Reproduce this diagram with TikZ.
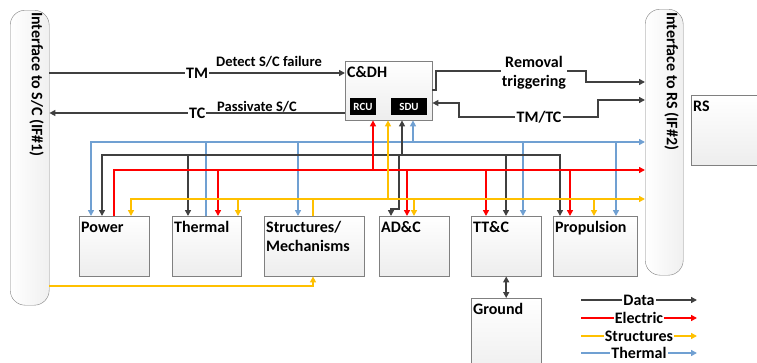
\documentclass[tikz,border=0pt]{standalone}
\usepackage{fontspec}
\setmainfont{Carlito}
\usepackage{tikz}
\usetikzlibrary{arrows.meta,positioning,calc}
\definecolor{dataGray}{RGB}{64,64,64}
\definecolor{elecRed}{RGB}{255,0,0}
\definecolor{strucYellow}{RGB}{255,192,0}
\definecolor{thermBlue}{RGB}{112,160,210}
\definecolor{boxGray}{RGB}{128,128,128}
\newcommand{\lblfont}{\fontsize{16}{19}\selectfont\bfseries}
\newcommand{\notefont}{\fontsize{14.5}{17}\selectfont\bfseries}
\newcommand{\chipfont}{\fontsize{11}{13}\selectfont\bfseries}

\begin{document}
\begin{tikzpicture}[x=1pt, y=-1pt, >={Triangle[length=6pt,width=6pt]}, font=\lblfont]
\tikzstyle{sub}=[draw=boxGray, top color=white, bottom color=gray!14, anchor=north west, inner sep=0pt]
\tikzstyle{iface}=[draw=boxGray, rounded corners=15pt, left color=white, right color=gray!12, anchor=north west, inner sep=0pt]
\tikzstyle{ifacetext}=[rotate=-90, anchor=north west, inner sep=1pt]
\tikzstyle{lbl}=[anchor=north west, inner xsep=2pt, inner ysep=5.5pt, align=left]
\tikzstyle{chip}=[fill=black, text=white, font=\chipfont, inner sep=0pt]
\tikzstyle{tag}=[fill=white, inner sep=1pt]
\tikzstyle{dataline}=[draw=dataGray, line width=1.8pt]
\tikzstyle{elecline}=[draw=elecRed, line width=2.6pt]
\tikzstyle{strucline}=[draw=strucYellow, line width=2.2pt]
\tikzstyle{thermline}=[draw=thermBlue, line width=1.8pt]
\useasboundingbox (0,0) rectangle (757,362);

% interfaces and units
\node[iface, minimum width=39pt, minimum height=295pt] (if1) at (10,10) {};
\node[ifacetext] (if1txt) at (45,11) {Interface to S/C (IF\#1)};
\node[iface, minimum width=38pt, minimum height=266pt] (if2) at (645,9) {};
\node[ifacetext] (if2txt) at (680,11) {Interface to RS (IF\#2)};
\node[sub, minimum width=90pt, minimum height=70pt, label={[lbl]north west:RS}] (rs) at (691,95) {};
\node[sub, minimum width=87pt, minimum height=59pt, label={[lbl]north west:C\&DH}] (cdh) at (345,61) {};
\node[chip, minimum width=26pt, minimum height=17pt] (rcu) at (363,106.5) {RCU};
\node[chip, minimum width=36pt, minimum height=17pt] (sdu) at (409,106.5) {SDU};
\node[sub, minimum width=70pt, minimum height=60pt, label={[lbl]north west:Power}] (power) at (79,216) {};
\node[sub, minimum width=69pt, minimum height=60pt, label={[lbl]north west:Thermal}] (thermal) at (172,216) {};
\node[sub, minimum width=100pt, minimum height=60pt, label={[lbl]north west:Structures/\\Mechanisms}] (struct) at (264,216) {};
\node[sub, minimum width=70pt, minimum height=60pt, label={[lbl]north west:AD\&C}] (adc) at (379,216) {};
\node[sub, minimum width=70pt, minimum height=60pt, label={[lbl]north west:TT\&C}] (ttc) at (471,216) {};
\node[sub, minimum width=84pt, minimum height=60pt, label={[lbl]north west:Propulsion}] (prop) at (553,216) {};
\node[sub, minimum width=70pt, minimum height=80pt, label={[lbl]north west:Ground}] (ground) at (471,298) {};

% TM / TC with the spacecraft
\draw[dataline,->] (if1.east |- 0,73) -- node[tag] (tm) {TM} (cdh.west |- 0,73);
\draw[dataline,<-] (if1.east |- 0,113) -- node[tag] (tc) {TC} (cdh.west |- 0,113);
\node[font=\notefont, anchor=base west, inner sep=0pt] (detect) at (216,66) {Detect S/C failure};
\node[font=\notefont, anchor=base west, inner sep=0pt] (passivate) at (217,111) {Passivate S/C};

% links to RS interface
\node[align=center, inner sep=1pt] (removal) at (534,73) {Removal\\triggering};
\node[inner sep=1pt] (tmtc) at (539,117) {TM/TC};
\draw[dataline] (cdh.east |- 0,90) -| (436,71) -- (removal.west |- 0,71);
\draw[dataline,->] (removal.east |- 0,71) -| (586,82) -- (if2.west |- 0,82);
\draw[dataline,<-] (cdh.east |- 0,103) -| (459,117) -- (tmtc.west);
\draw[dataline,->] (tmtc.east) -| (598,100) -- (if2.west |- 0,100);

% buses
\coordinate (thbus) at (0,142);
\coordinate (dabus) at (0,155);
\coordinate (elbus) at (0,170);
\coordinate (stbus) at (0,199);

\draw[thermline,<->] (91,0 |- power.north) |- (if2.west |- thbus);
\draw[thermline] (206,0 |- thermal.north) -- (206,0 |- thbus);
\foreach \x/\n in {298/struct, 523/ttc, 616/prop}{\draw[thermline,->] (\x,0 |- thbus) -- (\x,0 |- \n.north);}
\draw[thermline,->] (413,0 |- thbus) -- (413,0 |- cdh.south);

\draw[dataline,<->] (102,0 |- power.north) |- (560,0 |- dabus) -- (560,0 |- prop.north);
\foreach \x/\n in {188/thermal, 506/ttc}{\draw[dataline,->] (\x,0 |- dabus) -- (\x,0 |- \n.north);}
\draw[dataline,->] (402,0 |- dabus) -- (402,0 |- cdh.south);
\draw[dataline,->] (399,0 |- dabus) -- (399,209) -| (391,0 |- adc.north);

\draw[elecline,->] (114,0 |- power.north) |- (if2.west |- elbus);
\foreach \x/\n in {218/thermal, 407/adc, 486/ttc, 570/prop}{\draw[elecline,->] (\x,0 |- elbus) -- (\x,0 |- \n.north);}
\draw[elecline,->] (373,0 |- elbus) -- (373,0 |- cdh.south);

\draw[strucline,<->] (131,0 |- power.north) |- (if2.west |- stbus);
\foreach \x/\n in {238/thermal, 414/adc, 594/prop}{\draw[strucline,->] (\x,0 |- stbus) -- (\x,0 |- \n.north);}
\draw[strucline] (313,0 |- struct.north) -- (313,0 |- stbus);
\draw[strucline,->] (388,0 |- stbus) -- (388,0 |- cdh.south);
\draw[strucline,->] (if1.east |- 0,286) -| (struct.south -| 313,0);

\draw[dataline,<->] (ttc.south) -- (ground.north);

% legend
\foreach \name/\sty/\yy in {Data/dataline/300, Electric/elecline/318, Structures/strucline/336, Thermal/thermline/353}{
  \coordinate (legA\name) at (581,\yy);
  \coordinate (legB\name) at (697,\yy);
  \draw[\sty,->] (legA\name) -- node[tag] (leg\name) {\name} (legB\name);
}
\end{tikzpicture}
\end{document}
